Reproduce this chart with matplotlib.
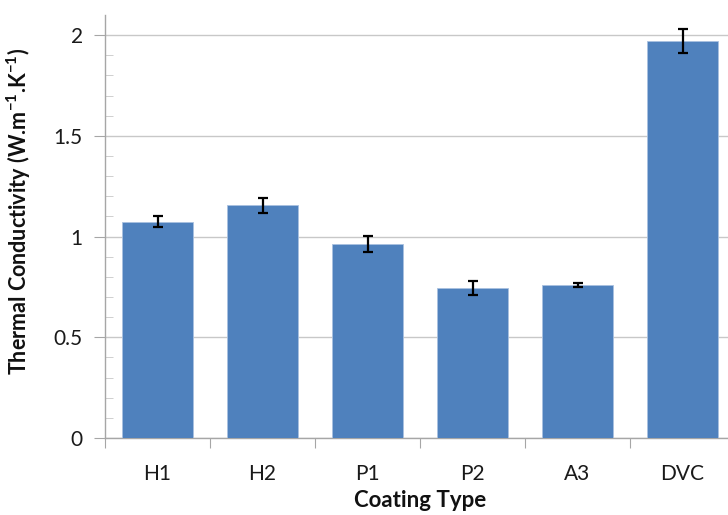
import numpy as np
import matplotlib
matplotlib.use("Agg")
import matplotlib.pyplot as plt

plt.rcParams['font.family'] = ['Lato', 'DejaVu Sans']
plt.rcParams['mathtext.fontset'] = 'custom'
plt.rcParams['mathtext.rm'] = 'Lato'
plt.rcParams['mathtext.bf'] = 'Lato:bold'

# data
coatings = ['H1', 'H2', 'P1', 'P2', 'A3', 'DVC']
conductivity = [1.073, 1.155, 0.964, 0.744, 0.758, 1.969]
err = [0.027, 0.036, 0.040, 0.036, 0.010, 0.060]

bar_color = '#4F81BD'
axis_gray = '#A6A6A6'

fig = plt.figure(figsize=(7.28, 5.15), dpi=100)
ax = fig.add_axes([105 / 728, 1 - 438 / 515, 630 / 728, 423 / 515])

x = np.arange(len(coatings))
ax.bar(x, conductivity, width=0.667, color=bar_color, edgecolor='#A9C1E0',
       linewidth=0.6, zorder=3)
ax.errorbar(x, conductivity, yerr=err, fmt='none', ecolor='black',
            elinewidth=1.6, capsize=3.5, capthick=1.6, zorder=4)

ax.set_xlim(-0.5, len(coatings) - 0.5)
ax.set_ylim(0, 2.1)

ax.set_yticks([0, 0.5, 1, 1.5, 2])
ax.set_yticklabels(['0', '0.5', '1', '1.5', '2'])
ax.set_yticks(np.arange(0, 2.05, 0.1), minor=True)
ax.yaxis.grid(True, which='major', color='#C8C8C8', linewidth=1.0, zorder=0)

# category boundaries as ticks, names centred
ax.set_xticks(np.arange(-0.5, len(coatings), 1.0))
ax.set_xticklabels([])
ax.set_xticks(x, minor=True)
ax.set_xticklabels(coatings, minor=True)

ax.tick_params(axis='y', which='major', direction='out', length=8,
               color=axis_gray, labelsize=15, pad=8, labelcolor='#1a1a1a')
ax.tick_params(axis='y', which='minor', direction='in', length=6,
               color='#C8C8C8')
ax.tick_params(axis='x', which='major', direction='out', length=7,
               color=axis_gray)
ax.tick_params(axis='x', which='minor', length=0, labelsize=15, pad=19,
               labelcolor='#1a1a1a')

for s in ['top', 'right']:
    ax.spines[s].set_visible(False)
for s in ['left', 'bottom']:
    ax.spines[s].set_color(axis_gray)
    ax.spines[s].set_linewidth(1.0)

ax.set_ylabel(r'Thermal Conductivity (W.m$^{\mathbf{-1}}$.K$^{\mathbf{-1}}$)',
              fontsize=15.5, fontweight='bold', color='#111111')
ax.yaxis.set_label_coords(-72 / 630, 0.535)
ax.set_xlabel('Coating Type', fontsize=16, fontweight='bold', labelpad=4,
              color='#111111')

fig.savefig('out.png', dpi=100)
